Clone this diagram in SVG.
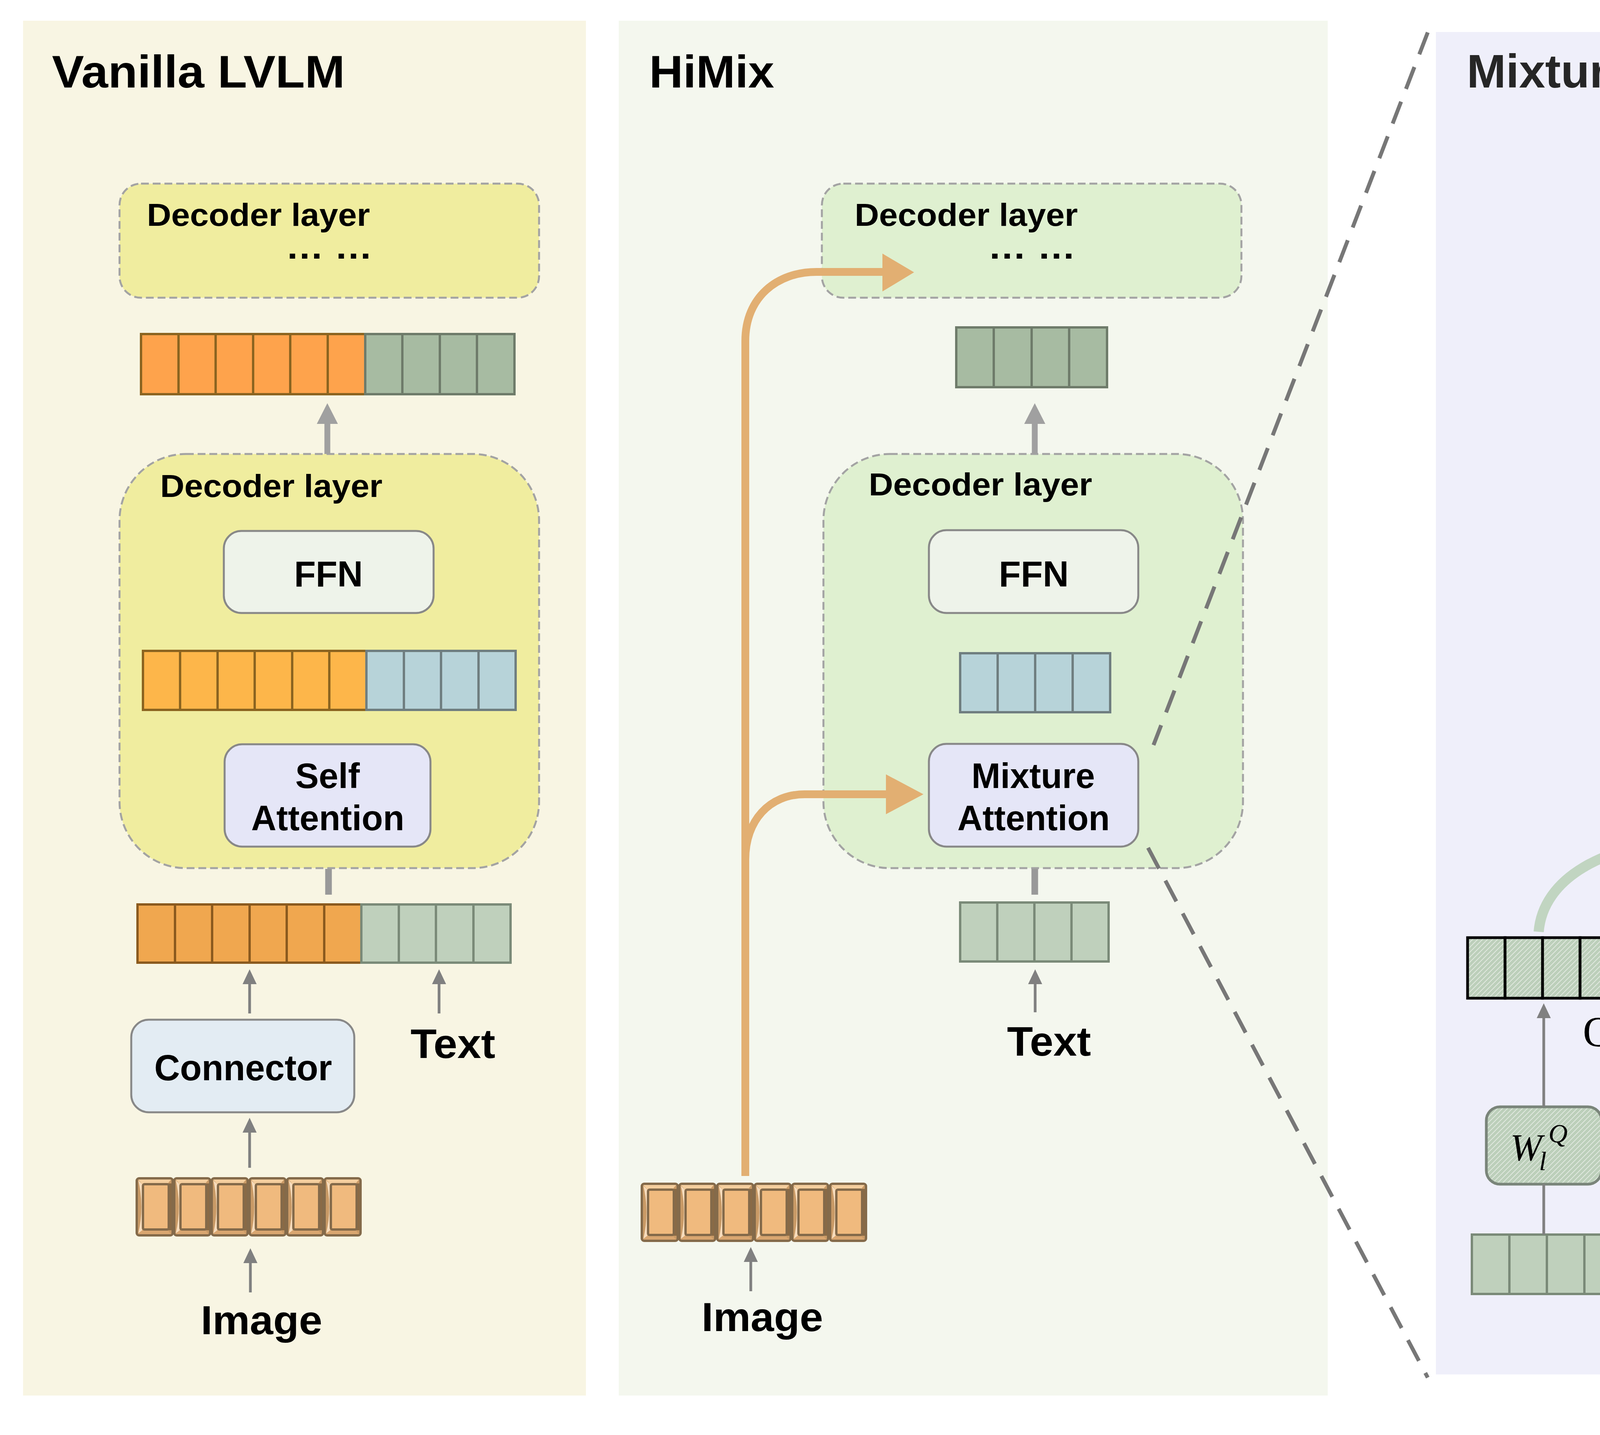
<svg xmlns="http://www.w3.org/2000/svg" xmlns:xlink="http://www.w3.org/1999/xlink" width="6930" height="3673" viewBox="0 0 6930 3673">
<style>
.lbl{font-family:"Liberation Sans",Arial,sans-serif;font-weight:bold;fill:#000}
.math{font-family:"Liberation Serif","Times New Roman",serif;fill:#000}
.dec{fill:#F0ED9F;stroke:#A3A3A3;stroke-width:5;stroke-dasharray:20 10}
.decg{fill:#DFF0D0;stroke:#A3A3A3;stroke-width:5;stroke-dasharray:20 10}
.box{stroke:#888;stroke-width:5}
.oA{fill:#FEA34C;stroke:#8B6420;stroke-width:6}
.gA{fill:#A7BBA2;stroke:#6E7B6A;stroke-width:6}
.oB{fill:#FDB64A;stroke:#8B6420;stroke-width:6}
.bB{fill:#B7D3D9;stroke:#6F7E80;stroke-width:6}
.oC{fill:#F0A74F;stroke:#8B5A1E;stroke-width:6}
.gC{fill:#BFD0BC;stroke:#7A8A78;stroke-width:6}
.bO{fill:#B7D3D9;stroke:#5F7278;stroke-width:6}
.hb{stroke:#000;stroke-width:7}
.thk{stroke:#A0A0A0;stroke-width:15}
.thkh{fill:#A0A0A0}
.ar{stroke:#808080;stroke-width:7;fill:none}
.arh{fill:#808080}
.ar2{stroke:#808080;stroke-width:13}
.mm circle{fill:#fff;stroke:#3A3A3A;stroke-width:8}
.mm line{stroke:#555;stroke-width:6}
.cc circle{fill:#EBEBEB;stroke:#1B2A4E;stroke-width:5}
.cc text{font-family:"Liberation Sans",Arial,sans-serif;font-weight:bold;fill:#333;font-size:105px;text-anchor:middle}
</style>
<defs>
<pattern id="hMatB" patternUnits="userSpaceOnUse" width="16" height="16" patternTransform="rotate(45)"><rect width="16" height="16" fill="#B08356"/><rect width="6" height="16" fill="#fff"/></pattern>
<pattern id="hMatG" patternUnits="userSpaceOnUse" width="16" height="16" patternTransform="rotate(45)"><rect width="16" height="16" fill="#B4BDA0"/><rect width="6" height="16" fill="#fff"/></pattern>
<pattern id="hKO" patternUnits="userSpaceOnUse" width="17" height="17" patternTransform="rotate(-45)"><rect width="17" height="17" fill="#F0BA7E"/><rect width="5" height="17" fill="#fff"/></pattern>
<pattern id="hKG" patternUnits="userSpaceOnUse" width="17" height="17" patternTransform="rotate(-45)"><rect width="17" height="17" fill="#C2D3C0"/><rect width="5" height="17" fill="#fff"/></pattern>
<pattern id="hVO" patternUnits="userSpaceOnUse" width="8" height="8" patternTransform="rotate(45)"><rect width="8" height="8" fill="#F5BC80"/><rect width="2.5" height="8" fill="#fff" opacity="0.75"/></pattern>
<pattern id="hVG" patternUnits="userSpaceOnUse" width="8" height="8" patternTransform="rotate(45)"><rect width="8" height="8" fill="#C5D5BE"/><rect width="2.5" height="8" fill="#fff" opacity="0.75"/></pattern>
<pattern id="hQG" patternUnits="userSpaceOnUse" width="9" height="9" patternTransform="rotate(45)"><rect width="9" height="9" fill="#BCCFBA"/><rect width="2" height="9" fill="#fff" opacity="0.55"/></pattern>
<linearGradient id="gV" gradientUnits="userSpaceOnUse" x1="6234" y1="1214" x2="5416" y2="734"><stop offset="0" stop-color="#E8BC86"/><stop offset="0.45" stop-color="#C3D2BD"/><stop offset="0.75" stop-color="#D9C79E"/><stop offset="1" stop-color="#F0B777"/></linearGradient>
<linearGradient id="gK" gradientUnits="userSpaceOnUse" x1="5056" y1="2385" x2="4580" y2="2146"><stop offset="0" stop-color="#DDB98A"/><stop offset="0.4" stop-color="#C4D4BD"/><stop offset="0.8" stop-color="#E2B57F"/><stop offset="1" stop-color="#E8B37A"/></linearGradient>
<g id="imgcell">
<rect x="2" y="3" width="92" height="146" rx="6" fill="#C99A66" stroke="#846A4A" stroke-width="6"/>
<polygon points="6,6 90,6 80,18 16,18" fill="#F4CE9E"/>
<polygon points="6,146 90,146 80,134 16,134" fill="#D9A670"/>
<path d="M6,8 Q22,76 6,144 L16,136 Q24,76 16,18 Z" fill="#F7DCBC"/>
<rect x="84" y="16" width="7" height="120" fill="#8A6A45"/>
<rect x="18" y="18" width="66" height="116" rx="4" fill="#F0BA7E" stroke="#846A4A" stroke-width="6"/>
</g>
</defs>
<rect width="6930" height="3673" fill="#fff"/>
<g id="panels">
<rect x="59" y="53" width="1441" height="3519" fill="#F8F5E3"/>
<rect x="1584" y="53" width="1815" height="3519" fill="#F4F7EE"/>
<rect x="3676" y="82" width="3160" height="3436" fill="#EFEFFA"/>
</g>

<g id="vanilla-title"><text class="lbl" x="133" y="224" font-size="116" textLength="750" lengthAdjust="spacingAndGlyphs">Vanilla LVLM</text></g>
<g id="v-decoder-top">
<rect class="dec" x="306" y="470" width="1074" height="292" rx="55"/>
<text class="lbl" x="376" y="578" font-size="82" textLength="571" lengthAdjust="spacingAndGlyphs">Decoder layer</text>
<text class="lbl" x="731" y="662" font-size="86" textLength="223" lengthAdjust="spacingAndGlyphs">… …</text>
</g>
<g id="v-row-out">
<rect class="oA" x="361" y="855" width="96" height="154"/><rect class="oA" x="457" y="855" width="95" height="154"/><rect class="oA" x="552" y="855" width="96" height="154"/><rect class="oA" x="648" y="855" width="95" height="154"/><rect class="oA" x="743" y="855" width="96" height="154"/><rect class="oA" x="839" y="855" width="96" height="154"/>
<rect class="gA" x="935" y="855" width="95" height="154"/><rect class="gA" x="1030" y="855" width="96" height="154"/><rect class="gA" x="1126" y="855" width="95" height="154"/><rect class="gA" x="1221" y="855" width="96" height="154"/>
</g>
<g id="v-decoder">
<rect class="dec" x="306" y="1162" width="1074" height="1060" rx="170"/>
<text class="lbl" x="410" y="1272" font-size="82" textLength="569" lengthAdjust="spacingAndGlyphs">Decoder layer</text>
</g>
<g id="v-ffn">
<rect class="box" x="573" y="1359" width="537" height="210" rx="45" fill="#EEF3EA"/>
<text class="lbl" x="753" y="1501" font-size="93" textLength="176" lengthAdjust="spacingAndGlyphs">FFN</text>
</g>
<g id="v-row-mid">
<rect class="oB" x="366" y="1666" width="95" height="151"/><rect class="oB" x="461" y="1666" width="96" height="151"/><rect class="oB" x="557" y="1666" width="95" height="151"/><rect class="oB" x="652" y="1666" width="96" height="151"/><rect class="oB" x="748" y="1666" width="95" height="151"/><rect class="oB" x="843" y="1666" width="95" height="151"/>
<rect class="bB" x="938" y="1666" width="96" height="151"/><rect class="bB" x="1034" y="1666" width="95" height="151"/><rect class="bB" x="1129" y="1666" width="96" height="151"/><rect class="bB" x="1225" y="1666" width="95" height="151"/>
</g>
<g id="v-self-attention">
<rect class="box" x="575" y="1905" width="527" height="262" rx="45" fill="#E5E6F7"/>
<text class="lbl" x="756" y="2017" font-size="90" textLength="165" lengthAdjust="spacingAndGlyphs">Self</text>
<text class="lbl" x="643" y="2125" font-size="90" textLength="392" lengthAdjust="spacingAndGlyphs">Attention</text>
</g>
<g id="v-row-in">
<rect class="oC" x="352" y="2315" width="96" height="149"/><rect class="oC" x="448" y="2315" width="95" height="149"/><rect class="oC" x="543" y="2315" width="96" height="149"/><rect class="oC" x="639" y="2315" width="95" height="149"/><rect class="oC" x="734" y="2315" width="96" height="149"/><rect class="oC" x="830" y="2315" width="95" height="149"/>
<rect class="gC" x="925" y="2315" width="96" height="149"/><rect class="gC" x="1021" y="2315" width="95" height="149"/><rect class="gC" x="1116" y="2315" width="96" height="149"/><rect class="gC" x="1212" y="2315" width="95" height="149"/>
</g>
<g id="v-text"><text class="lbl" x="1051" y="2708" font-size="105" textLength="217" lengthAdjust="spacingAndGlyphs">Text</text></g>
<g id="v-connector">
<rect class="box" x="336" y="2610" width="571" height="237" rx="45" fill="#E3ECF3"/>
<text class="lbl" x="395" y="2765" font-size="93" textLength="455" lengthAdjust="spacingAndGlyphs">Connector</text>
</g>
<g id="v-image-tokens">
<use href="#imgcell" x="348" y="3013"/><use href="#imgcell" x="444" y="3013"/><use href="#imgcell" x="540" y="3013"/><use href="#imgcell" x="637" y="3013"/><use href="#imgcell" x="733" y="3013"/><use href="#imgcell" x="829" y="3013"/>
</g>
<g id="v-image"><text class="lbl" x="514" y="3415" font-size="103" textLength="311" lengthAdjust="spacingAndGlyphs">Image</text></g>

<g id="h-title"><text class="lbl" x="1662" y="224" font-size="116" textLength="320" lengthAdjust="spacingAndGlyphs">HiMix</text></g>
<g id="h-decoder-top">
<rect class="decg" x="2104" y="470" width="1074" height="292" rx="55"/>
<text class="lbl" x="2188" y="578" font-size="82" textLength="571" lengthAdjust="spacingAndGlyphs">Decoder layer</text>
<text class="lbl" x="2529" y="662" font-size="86" textLength="225" lengthAdjust="spacingAndGlyphs">… …</text>
</g>
<g id="h-row-out">
<rect class="gA" x="2448" y="838" width="96" height="153"/><rect class="gA" x="2544" y="838" width="97" height="153"/><rect class="gA" x="2641" y="838" width="96" height="153"/><rect class="gA" x="2737" y="838" width="97" height="153"/>
</g>
<g id="h-decoder">
<rect class="decg" x="2108" y="1162" width="1074" height="1060" rx="170"/>
<text class="lbl" x="2224" y="1268" font-size="82" textLength="572" lengthAdjust="spacingAndGlyphs">Decoder layer</text>
</g>
<g id="h-ffn">
<rect class="box" x="2378" y="1357" width="536" height="212" rx="45" fill="#EEF3EA"/>
<text class="lbl" x="2557" y="1501" font-size="93" textLength="179" lengthAdjust="spacingAndGlyphs">FFN</text>
</g>
<g id="h-row-mid">
<rect class="bB" x="2458" y="1672" width="96" height="151"/><rect class="bB" x="2554" y="1672" width="96" height="151"/><rect class="bB" x="2650" y="1672" width="96" height="151"/><rect class="bB" x="2746" y="1672" width="96" height="151"/>
</g>
<g id="h-mixture-attention">
<rect class="box" x="2378" y="1904" width="536" height="263" rx="45" fill="#E5E6F7"/>
<text class="lbl" x="2487" y="2017" font-size="90" textLength="316" lengthAdjust="spacingAndGlyphs">Mixture</text>
<text class="lbl" x="2451" y="2125" font-size="90" textLength="390" lengthAdjust="spacingAndGlyphs">Attention</text>
</g>
<g id="h-row-in">
<rect class="gC" x="2458" y="2310" width="95" height="151"/><rect class="gC" x="2553" y="2310" width="95" height="151"/><rect class="gC" x="2648" y="2310" width="95" height="151"/><rect class="gC" x="2743" y="2310" width="95" height="151"/>
</g>
<g id="h-text"><text class="lbl" x="2578" y="2702" font-size="105" textLength="215" lengthAdjust="spacingAndGlyphs">Text</text></g>
<g id="h-image-tokens">
<use href="#imgcell" x="1641" y="3027"/><use href="#imgcell" x="1737" y="3027"/><use href="#imgcell" x="1834" y="3027"/><use href="#imgcell" x="1930" y="3027"/><use href="#imgcell" x="2026" y="3027"/><use href="#imgcell" x="2123" y="3027"/>
</g>
<g id="h-image"><text class="lbl" x="1796" y="3407" font-size="103" textLength="311" lengthAdjust="spacingAndGlyphs">Image</text></g>

<g id="m-title"><text class="lbl" x="3755" y="224" font-size="120" textLength="985" lengthAdjust="spacingAndGlyphs" style="fill:#262626">Mixture Attention</text></g>
<g id="m-output-row">
<rect class="bO" x="5130" y="341" width="96" height="152"/><rect class="bO" x="5226" y="341" width="96" height="152"/><rect class="bO" x="5322" y="341" width="96" height="152"/><rect class="bO" x="5418" y="341" width="96" height="152"/>
</g>
<g id="m-matmul-top" class="mm">
<circle cx="5333" cy="734" r="64"/>
<line x1="5289" y1="690" x2="5377" y2="778"/><line x1="5377" y1="690" x2="5289" y2="778"/>
</g>
<g id="m-attn-matrix">
<rect x="4176" y="1081" width="541" height="555" fill="url(#hMatB)"/>
<rect x="4717" y="1081" width="90" height="139" fill="url(#hMatG)"/><rect x="4807" y="1081" width="271" height="139" fill="#fff"/>
<rect x="4717" y="1220" width="180" height="138" fill="url(#hMatG)"/><rect x="4897" y="1220" width="181" height="138" fill="#fff"/>
<rect x="4717" y="1358" width="271" height="139" fill="url(#hMatG)"/><rect x="4988" y="1358" width="90" height="139" fill="#fff"/>
<rect x="4717" y="1497" width="361" height="139" fill="url(#hMatG)"/>
<path d="M4266,1081V1636M4356,1081V1636M4447,1081V1636M4537,1081V1636M4627,1081V1636M4717,1081V1636M4807,1081V1636M4898,1081V1636M4988,1081V1636M4176,1220H5078M4176,1358H5078M4176,1497H5078" stroke="#6B5034" stroke-width="8" fill="none"/>
<rect x="4176" y="1081" width="902" height="555" fill="none" stroke="#6B5034" stroke-width="8"/>
</g>
<g id="m-softmax">
<rect class="box" x="4258" y="1679" width="572" height="252" rx="40" fill="#fff"/>
<text class="lbl" x="4371" y="1839" font-size="90" textLength="373" lengthAdjust="spacingAndGlyphs">Softmax</text>
</g>
<g id="m-matmul-mid" class="mm">
<circle cx="4505" cy="2153" r="64"/>
<line x1="4461" y1="2109" x2="4549" y2="2197"/><line x1="4549" y1="2109" x2="4461" y2="2197"/>
</g>
<g id="m-v-row">
<rect class="hb" x="5748" y="1243" width="95" height="150" fill="url(#hVO)"/><rect class="hb" x="5843" y="1243" width="96" height="150" fill="url(#hVO)"/><rect class="hb" x="5939" y="1243" width="95" height="150" fill="url(#hVO)"/><rect class="hb" x="6034" y="1243" width="96" height="150" fill="url(#hVO)"/><rect class="hb" x="6130" y="1243" width="95" height="150" fill="url(#hVO)"/><rect class="hb" x="6225" y="1243" width="95" height="150" fill="url(#hVO)"/>
<rect class="hb" x="6320" y="1243" width="96" height="150" fill="url(#hVG)"/><rect class="hb" x="6416" y="1243" width="95" height="150" fill="url(#hVG)"/><rect class="hb" x="6511" y="1243" width="96" height="150" fill="url(#hVG)"/><rect class="hb" x="6607" y="1243" width="95" height="150" fill="url(#hVG)"/>
<text class="math" x="6541" y="1506" font-size="105" font-style="italic">V<tspan font-size="74" dy="22">vl</tspan></text>
</g>
<g id="m-concat-v" class="cc"><circle cx="6236" cy="1592" r="60"/><text x="6238" y="1630">C</text></g>
<g id="m-wvv">
<rect x="5856" y="1688" width="296" height="196" rx="35" fill="url(#hVO)" stroke="#7A5E3E" stroke-width="7"/>
<text class="math" font-size="98"><tspan x="5921" y="1822" font-style="italic">W</tspan><tspan x="5996" y="1842" font-size="66">v</tspan><tspan x="6017" y="1783" font-size="66" font-style="italic">V</tspan></text>
</g>
<g id="m-wlv">
<rect x="6365" y="1684" width="295" height="195" rx="35" fill="url(#hVG)" stroke="#7A857A" stroke-width="7"/>
<text class="math" font-size="98"><tspan x="6431" y="1816" font-style="italic">W</tspan><tspan x="6505" y="1842" font-size="66" font-style="italic">l</tspan><tspan x="6524" y="1780" font-size="66">V</tspan></text>
</g>
<g id="m-v-image-tokens">
<use href="#imgcell" x="5740" y="2012"/><use href="#imgcell" x="5836" y="2012"/><use href="#imgcell" x="5932" y="2012"/><use href="#imgcell" x="6028" y="2012"/><use href="#imgcell" x="6124" y="2012"/><use href="#imgcell" x="6220" y="2012"/>
</g>
<g id="m-v-text-tokens">
<rect class="gC" x="6341" y="2012" width="96" height="150"/><rect class="gC" x="6437" y="2012" width="96" height="150"/><rect class="gC" x="6533" y="2012" width="96" height="150"/><rect class="gC" x="6629" y="2012" width="95" height="150"/>
</g>
<g id="m-q-row">
<rect class="hb" x="3757" y="2400" width="96" height="155" fill="url(#hQG)"/><rect class="hb" x="3853" y="2400" width="96" height="155" fill="url(#hQG)"/><rect class="hb" x="3949" y="2400" width="96" height="155" fill="url(#hQG)"/><rect class="hb" x="4045" y="2400" width="96" height="155" fill="url(#hQG)"/>
<text class="math" x="4052" y="2678" font-size="110">Q<tspan font-size="75" font-style="italic" dy="22">l</tspan></text>
</g>
<g id="m-k-row">
<rect class="hb" x="4542" y="2400" width="96" height="155" fill="url(#hKO)"/><rect class="hb" x="4638" y="2400" width="96" height="155" fill="url(#hKO)"/><rect class="hb" x="4734" y="2400" width="96" height="155" fill="url(#hKO)"/><rect class="hb" x="4830" y="2400" width="96" height="155" fill="url(#hKO)"/><rect class="hb" x="4926" y="2400" width="96" height="155" fill="url(#hKO)"/><rect class="hb" x="5022" y="2400" width="97" height="155" fill="url(#hKO)"/>
<rect class="hb" x="5119" y="2400" width="96" height="155" fill="url(#hKG)"/><rect class="hb" x="5215" y="2400" width="96" height="155" fill="url(#hKG)"/><rect class="hb" x="5311" y="2400" width="96" height="155" fill="url(#hKG)"/><rect class="hb" x="5407" y="2400" width="96" height="155" fill="url(#hKG)"/>
<text class="math" x="5378" y="2679" font-size="110" font-style="italic">K<tspan font-size="75" dy="22">vl</tspan></text>
</g>
<g id="m-concat-k" class="cc"><circle cx="5031" cy="2741" r="62"/><text x="5033" y="2779">C</text></g>
<g id="m-wlq">
<rect x="3805" y="2833" width="295" height="198" rx="35" fill="url(#hQG)" stroke="#7A857A" stroke-width="7"/>
<text class="math" font-size="98"><tspan x="3866" y="2970" font-style="italic">W</tspan><tspan x="3940" y="2995" font-size="68" font-style="italic">l</tspan><tspan x="3964" y="2924" font-size="68" font-style="italic">Q</tspan></text>
</g>
<g id="m-wvk">
<rect x="4650" y="2836" width="297" height="199" rx="35" fill="url(#hKO)" stroke="#7A5E3E" stroke-width="7"/>
<text class="math" font-size="98"><tspan x="4717" y="2976" font-style="italic">W</tspan><tspan x="4786" y="2994" font-size="68">v</tspan><tspan x="4812" y="2938" font-size="68">K</tspan></text>
</g>
<g id="m-wlk">
<rect x="5163" y="2836" width="293" height="197" rx="35" fill="url(#hKG)" stroke="#7A857A" stroke-width="7"/>
<text class="math" font-size="98"><tspan x="5225" y="2970" font-style="italic">W</tspan><tspan x="5300" y="2995" font-size="68" font-style="italic">l</tspan><tspan x="5320" y="2932" font-size="68">K</tspan></text>
</g>
<g id="m-q-tokens">
<rect class="gC" x="3768" y="3160" width="96" height="152"/><rect class="gC" x="3864" y="3160" width="96" height="152"/><rect class="gC" x="3960" y="3160" width="96" height="152"/><rect class="gC" x="4056" y="3160" width="96" height="152"/>
</g>
<g id="m-k-image-tokens">
<use href="#imgcell" x="4537" y="3163"/><use href="#imgcell" x="4633" y="3163"/><use href="#imgcell" x="4729" y="3163"/><use href="#imgcell" x="4825" y="3163"/><use href="#imgcell" x="4921" y="3163"/><use href="#imgcell" x="5017" y="3163"/>
</g>
<g id="m-k-text-tokens">
<rect class="gC" x="5139" y="3163" width="95" height="150"/><rect class="gC" x="5234" y="3163" width="95" height="150"/><rect class="gC" x="5329" y="3163" width="95" height="150"/><rect class="gC" x="5424" y="3163" width="96" height="150"/>
</g>
<g id="legend">
<g class="cc"><circle cx="6210" cy="3135" r="61"/><text x="6212" y="3173">C</text></g>
<text class="lbl" x="6349" y="3183" font-size="118" textLength="412" lengthAdjust="spacingAndGlyphs" style="fill:#363838">Concat</text>
<g class="mm"><circle cx="6210" cy="3359" r="61"/><line x1="6168" y1="3317" x2="6252" y2="3401"/><line x1="6252" y1="3317" x2="6168" y2="3401"/></g>
<text class="lbl" x="6351" y="3406" font-size="118" textLength="400" lengthAdjust="spacingAndGlyphs" style="fill:#363838">MatMul</text>
</g>

<g id="connectors">
<path d="M3655,83L2953,1907M2939,2170L3655,3526" stroke="#777" stroke-width="10" stroke-dasharray="60 35" fill="none"/>
<line class="thk" x1="838" y1="1162" x2="838" y2="1080"/><polygon class="thkh" points="811,1085 865,1085 838,1032"/>
<line x1="841" y1="2224" x2="841" y2="2290" stroke="#999" stroke-width="17"/>
<line class="ar" x1="639" y1="2594" x2="639" y2="2515"/><polygon class="arh" points="621,2519 657,2519 639,2481"/>
<line class="ar" x1="1124" y1="2594" x2="1124" y2="2515"/><polygon class="arh" points="1106,2519 1142,2519 1124,2481"/>
<line class="ar" x1="639" y1="2989" x2="639" y2="2895"/><polygon class="arh" points="621,2899 657,2899 639,2861"/>
<line class="ar" x1="641" y1="3308" x2="641" y2="3229"/><polygon class="arh" points="623,3233 659,3233 641,3195"/>
<line class="thk" x1="2649" y1="1162" x2="2649" y2="1080"/><polygon class="thkh" points="2622,1085 2676,1085 2649,1032"/>
<line x1="2649" y1="2224" x2="2649" y2="2290" stroke="#999" stroke-width="17"/>
<line class="ar" x1="2650" y1="2591" x2="2650" y2="2515"/><polygon class="arh" points="2632,2519 2668,2519 2650,2481"/>
<line class="ar" x1="1922" y1="3305" x2="1922" y2="3226"/><polygon class="arh" points="1904,3230 1940,3230 1922,3192"/>
<path d="M1908,3010V873C1908,760 1990,696 2090,696H2265" stroke="#E2AF72" stroke-width="20" fill="none"/>
<polygon points="2259,649 2340,697 2259,746" fill="#E2AF72"/>
<path d="M1908,2200C1908,2100 1970,2033 2060,2033H2275" stroke="#E2AF72" stroke-width="20" fill="none"/>
<polygon points="2268,1982 2364,2033 2268,2084" fill="#E2AF72"/>
<line class="ar2" x1="5317" y1="311" x2="5317" y2="233"/><polygon class="arh" points="5294,237 5340,237 5317,193"/>
<line class="ar2" x1="5332" y1="648" x2="5332" y2="573"/><polygon class="arh" points="5309,577 5355,577 5332,533"/>
<line class="ar2" x1="4500" y1="2072" x2="4500" y2="1998"/><polygon class="arh" points="4477,2002 4523,2002 4500,1958"/>
<path d="M4686,1052C4700,900 4900,760 5150,738" stroke="#CBD3B0" stroke-width="30" fill="none"/>
<polygon points="5141,689 5239,734 5147,783" fill="#CBD3B0"/>
<path d="M6234,1214C6260,1000 6000,790 5500,740" stroke="url(#gV)" stroke-width="30" fill="none"/>
<polygon points="5510,689 5416,734 5510,786" fill="#F0B777"/>
<path d="M3939,2385C3950,2250 4100,2160 4340,2146" stroke="#C1D5C1" stroke-width="26" fill="none"/>
<polygon points="4333,2103 4419,2146 4333,2190" fill="#C1D5C1"/>
<path d="M5056,2385C5050,2230 4850,2160 4670,2148" stroke="url(#gK)" stroke-width="26" fill="none"/>
<polygon points="4675,2103 4580,2146 4675,2190" fill="#E8B37A"/>
<line class="ar" x1="6228" y1="1532" x2="6228" y2="1447"/><polygon class="arh" points="6210,1451 6246,1451 6228,1413"/>
<path class="ar" d="M6004,1686C6004,1630 6080,1600 6145,1596"/><polygon class="arh" points="6174,1594 6140,1576 6142,1613"/>
<path class="ar" d="M6511,1681C6511,1630 6420,1600 6330,1596"/><polygon class="arh" points="6298,1594 6332,1576 6330,1613"/>
<line class="ar" x1="6004" y1="1998" x2="6004" y2="1925"/><polygon class="arh" points="5986,1929 6022,1929 6004,1891"/>
<line class="ar" x1="6527" y1="1998" x2="6527" y2="1925"/><polygon class="arh" points="6509,1929 6545,1929 6527,1891"/>
<line class="ar" x1="3952" y1="2833" x2="3952" y2="2602"/><polygon class="arh" points="3934,2606 3970,2606 3952,2568"/>
<line class="ar" x1="3952" y1="3160" x2="3952" y2="3031"/>
<line class="ar" x1="5030" y1="2679" x2="5030" y2="2596"/><polygon class="arh" points="5012,2600 5048,2600 5030,2562"/>
<path class="ar" d="M4799,2838C4799,2780 4870,2752 4940,2745"/><polygon class="arh" points="4968,2742 4934,2725 4936,2762"/>
<path class="ar" d="M5309,2833C5309,2780 5230,2752 5125,2745"/><polygon class="arh" points="5094,2742 5128,2725 5127,2761"/>
<line class="ar" x1="4798" y1="3148" x2="4798" y2="3079"/><polygon class="arh" points="4780,3083 4816,3083 4798,3045"/>
<line class="ar" x1="5324" y1="3148" x2="5324" y2="3079"/><polygon class="arh" points="5306,3083 5342,3083 5324,3045"/>
</g>
</svg>
